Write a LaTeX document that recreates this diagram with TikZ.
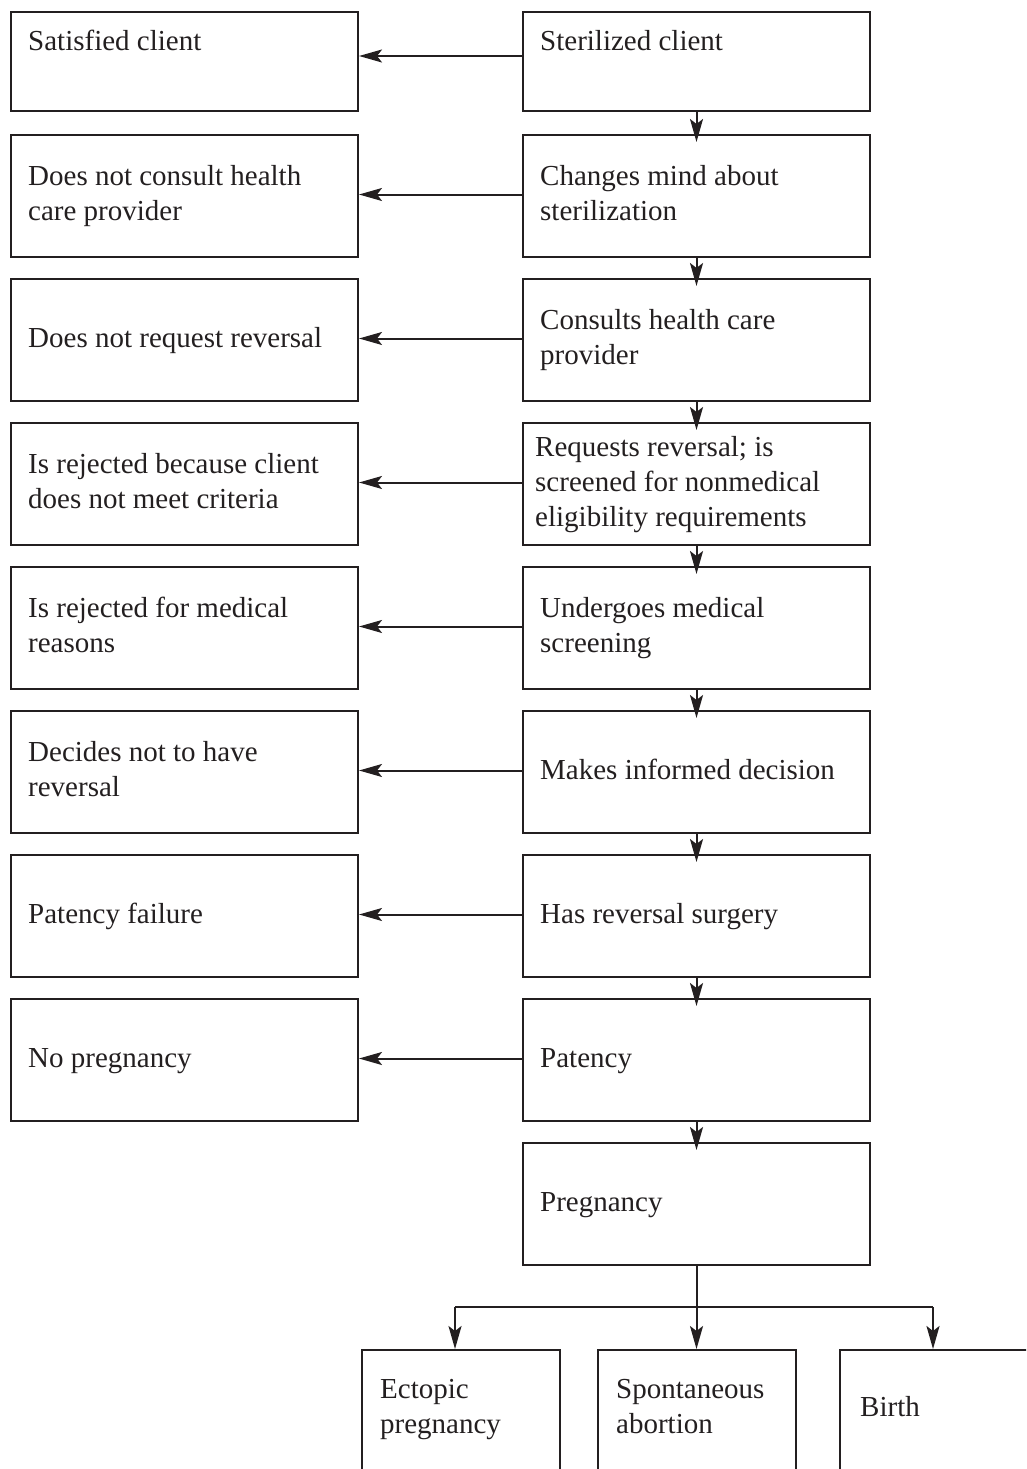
\documentclass[tikz,border=0pt]{standalone}
\usepackage{fontspec}
\setmainfont{Liberation Serif}
\usetikzlibrary{arrows.meta}
\definecolor{ink}{HTML}{231F20}
\tikzset{
  box/.style={draw=ink, line width=2pt, rectangle, inner sep=0pt, minimum width=347pt, minimum height=122pt},
  txt/.style={anchor=west, inner sep=0pt, align=left, text=ink, font=\fontsize{29}{35}\selectfont},
  arr/.style={draw=ink, line width=2pt, -{Stealth[length=23pt, width=13pt, inset=5pt]}},
  varr/.style={arr, shorten >=-8pt},
  plain/.style={draw=ink, line width=2pt}
}
\begin{document}
\begin{tikzpicture}[x=1pt, y=-1pt]
\useasboundingbox (0,0) rectangle (1026,1469);
\clip (0,0) rectangle (1026,1469);

% right column
\node[box, minimum height=99pt] (r1) at (696.5,61.5) {};
\node[box] (r2) at (696.5,196) {};
\node[box] (r3) at (696.5,340) {};
\node[box] (r4) at (696.5,484) {};
\node[box] (r5) at (696.5,628) {};
\node[box] (r6) at (696.5,772) {};
\node[box] (r7) at (696.5,916) {};
\node[box] (r8) at (696.5,1060) {};
\node[box] (r9) at (696.5,1204) {};

% left column
\node[box, minimum height=99pt] (l1) at (184.5,61.5) {};
\node[box] (l2) at (184.5,196) {};
\node[box] (l3) at (184.5,340) {};
\node[box] (l4) at (184.5,484) {};
\node[box] (l5) at (184.5,628) {};
\node[box] (l6) at (184.5,772) {};
\node[box] (l7) at (184.5,916) {};
\node[box] (l8) at (184.5,1060) {};

% bottom boxes (cut by the picture edge)
\node[box, minimum width=198pt, minimum height=170pt] (b1) at (461,1435) {};
\node[box, minimum width=198pt, minimum height=170pt] (b2) at (697,1435) {};
\node[box, minimum width=220pt, minimum height=170pt] (b3) at (950,1435) {};

% texts right
\node[txt] (r1t) at ([xshift=18pt]r1.west) {\strut Sterilized client\\\strut};
\node[txt] (r2t) at ([xshift=18pt]r2.west) {\strut Changes mind about\\\strut sterilization};
\node[txt] (r3t) at ([xshift=18pt]r3.west) {\strut Consults health care\\\strut provider};
\node[txt] (r4t) at ([xshift=13pt]r4.west) {\strut Requests reversal; is\\\strut screened for nonmedical\\\strut eligibility requirements};
\node[txt] (r5t) at ([xshift=18pt]r5.west) {\strut Undergoes medical\\\strut screening};
\node[txt] (r6t) at ([xshift=18pt]r6.west) {\strut Makes informed decision};
\node[txt] (r7t) at ([xshift=18pt]r7.west) {\strut Has reversal surgery};
\node[txt] (r8t) at ([xshift=18pt]r8.west) {\strut Patency};
\node[txt] (r9t) at ([xshift=18pt]r9.west) {\strut Pregnancy};

% texts left
\node[txt] (l1t) at ([xshift=18pt]l1.west) {\strut Satisfied client\\\strut};
\node[txt] (l2t) at ([xshift=18pt]l2.west) {\strut Does not consult health\\\strut care provider};
\node[txt] (l3t) at ([xshift=18pt]l3.west) {\strut Does not request reversal};
\node[txt] (l4t) at ([xshift=18pt]l4.west) {\strut Is rejected because client\\\strut does not meet criteria};
\node[txt] (l5t) at ([xshift=18pt]l5.west) {\strut Is rejected for medical\\\strut reasons};
\node[txt] (l6t) at ([xshift=18pt]l6.west) {\strut Decides not to have\\\strut reversal};
\node[txt] (l7t) at ([xshift=18pt]l7.west) {\strut Patency failure};
\node[txt] (l8t) at ([xshift=18pt]l8.west) {\strut No pregnancy};

% texts bottom
\node[txt] (b1t) at (380,1409) {\strut Ectopic\\\strut pregnancy};
\node[txt] (b2t) at (616,1409) {\strut Spontaneous\\\strut abortion};
\node[txt] (b3t) at (860,1409) {\strut Birth};

% horizontal arrows
\draw[arr] ([yshift=5.5pt]r1.west) -- ([yshift=5.5pt]l1.east);
\foreach \i in {2,...,8} {
  \draw[arr] ([yshift=1.5pt]r\i.west) -- ([yshift=1.5pt]l\i.east);
}

% vertical arrows
\foreach \i/\j in {1/2,2/3,3/4,4/5,5/6,6/7,7/8,8/9} {
  \draw[varr] (r\i.south) -- (r\j.north);
}

% split to outcomes
\coordinate (split) at (696.5,1307);
\coordinate (bl) at (455,1307);
\coordinate (br) at (933,1307);
\draw[plain] (r9.south) -- (split);
\draw[plain] (bl) -- (br);
\draw[arr] (bl) -- (bl |- b1.north);
\draw[arr] (split) -- (split |- b2.north);
\draw[arr] (br) -- (br |- b3.north);
\end{tikzpicture}
\end{document}
